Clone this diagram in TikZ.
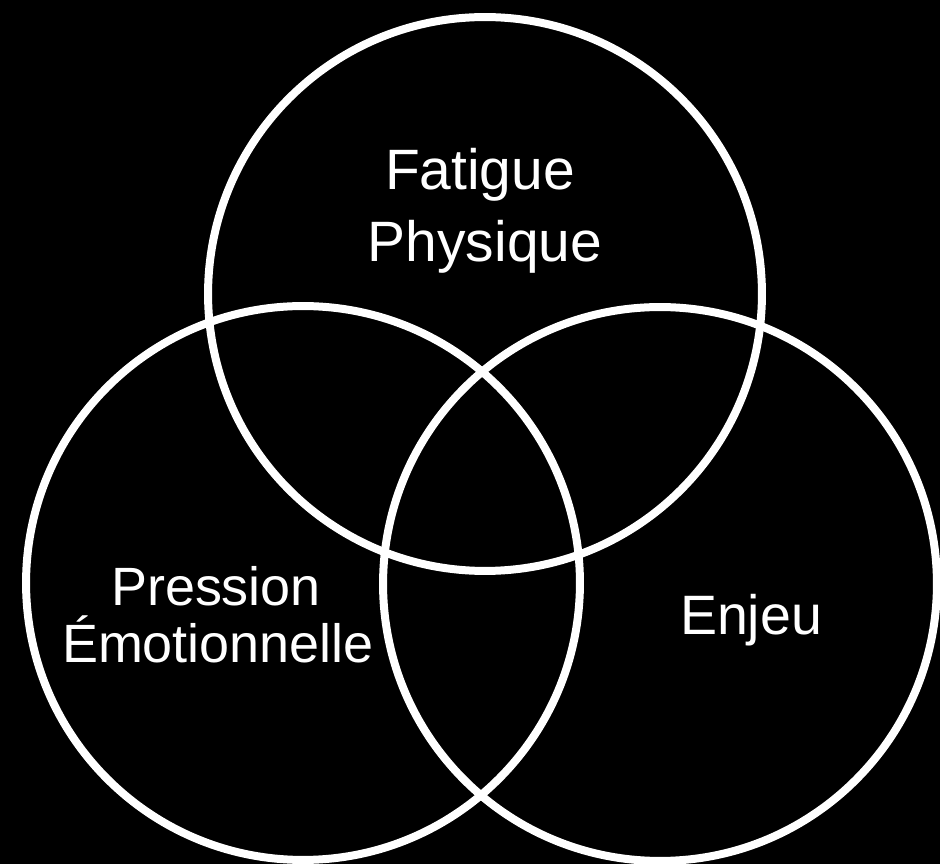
\documentclass[tikz,border=0pt]{standalone}
\usepackage{fontspec}
\setmainfont{Liberation Sans}
\usepackage{tikz}
\usetikzlibrary{positioning}

\begin{document}
\begin{tikzpicture}[
        x=0.02cm, y=-0.02cm,
        ring/.style={circle, draw=white, line width=0.16cm,
                     minimum size=11.08cm, inner sep=0pt},
        lbl/.style={text=white, anchor=base, inner sep=0pt},
      ]
      % Background and page size
      \fill[black] (0,0) rectangle (940,864);
      \useasboundingbox (0,0) rectangle (940,864);

      % Three circles
      \node[ring] (topc) at (485,294) {};
      \node[ring] (leftc) at (303,583) {};
      \node[ring] (rightc) at (660,584) {};

      % Labels
      \node[lbl, font=\fontsize{32.4}{38}\selectfont] (fat) at (480,190) {Fatigue};
      \node[lbl, font=\fontsize{32.4}{38}\selectfont] (phys) at (485,262) {Physique};
      \node[lbl, font=\fontsize{30.7}{36}\selectfont] (pres) at (216,605) {Pression};
      \node[lbl, font=\fontsize{30.7}{36}\selectfont] (emo) at (218,663) {Émotionnelle};
      \node[lbl, font=\fontsize{31.6}{37}\selectfont] (enj) at (751,635) {Enjeu};
      \end{tikzpicture}
\end{document}
